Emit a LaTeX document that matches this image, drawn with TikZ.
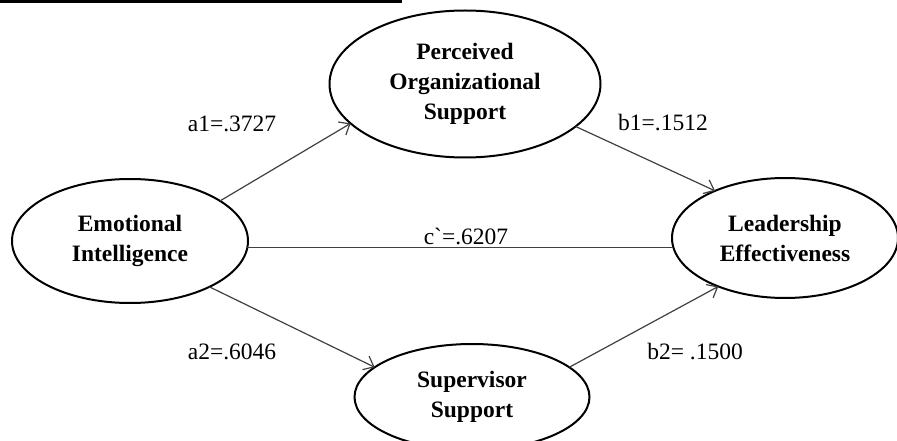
\documentclass[tikz,border=0pt]{standalone}
\usepackage{fontspec}
\setmainfont{Liberation Serif}
\newfontfamily\rawserif[Ligatures=TeXOff]{Liberation Serif}
\usetikzlibrary{arrows.meta,shapes.geometric}
\begin{document}
\begin{tikzpicture}[x=1pt,y=-1pt,
  construct/.style={draw=black, line width=2pt, ellipse, inner sep=0pt, outer sep=0pt,
    align=center, font=\fontsize{23.5}{30}\selectfont\bfseries},
  conn/.style={draw=black!75, line width=1.2pt},
  arr/.style={conn, -{Straight Barb[length=9pt,width=15pt,line width=1.2pt]}},
  coef/.style={inner sep=0pt, font=\fontsize{23.5}{28}\selectfont}]
\useasboundingbox (0,0) rectangle (897,441);
\draw[line width=2.7pt] (0,1.3) -- (402,1.3);
\node[construct, minimum width=236pt, minimum height=124pt] (ei) at (130,241) {Emotional\\Intelligence};
\node[construct, minimum width=271pt, minimum height=147pt] (pos) at (465,84) {Perceived\\Organizational\\Support};
\node[construct, minimum width=226pt, minimum height=120pt] (le) at (785,238) {Leadership\\Effectiveness};
\node[construct, minimum width=235pt, minimum height=106pt] (ss) at (472,397) {Supervisor\\Support};
\draw[arr] (ei.24.5) -- (pos.199.5);
\draw[arr] (pos.-21.4) -- (le.146.9);
\draw[conn] (ei.-3) -- (ei.-3 -| le.west);
\draw[arr] (ei.-30.4) -- (ss.163.1);
\draw[arr] (ss.17.7) -- (le.216.2);
\node[coef] (la1) at (232,124) {a1=.3727};
\node[coef] (lb1) at (663,123) {b1=.1512};
\node[coef] (lc) at (466,236) {\rawserif c`=.6207};
\node[coef] (la2) at (232,352) {a2=.6046};
\node[coef] (lb2) at (695,352) {b2= .1500};
\end{tikzpicture}
\end{document}
